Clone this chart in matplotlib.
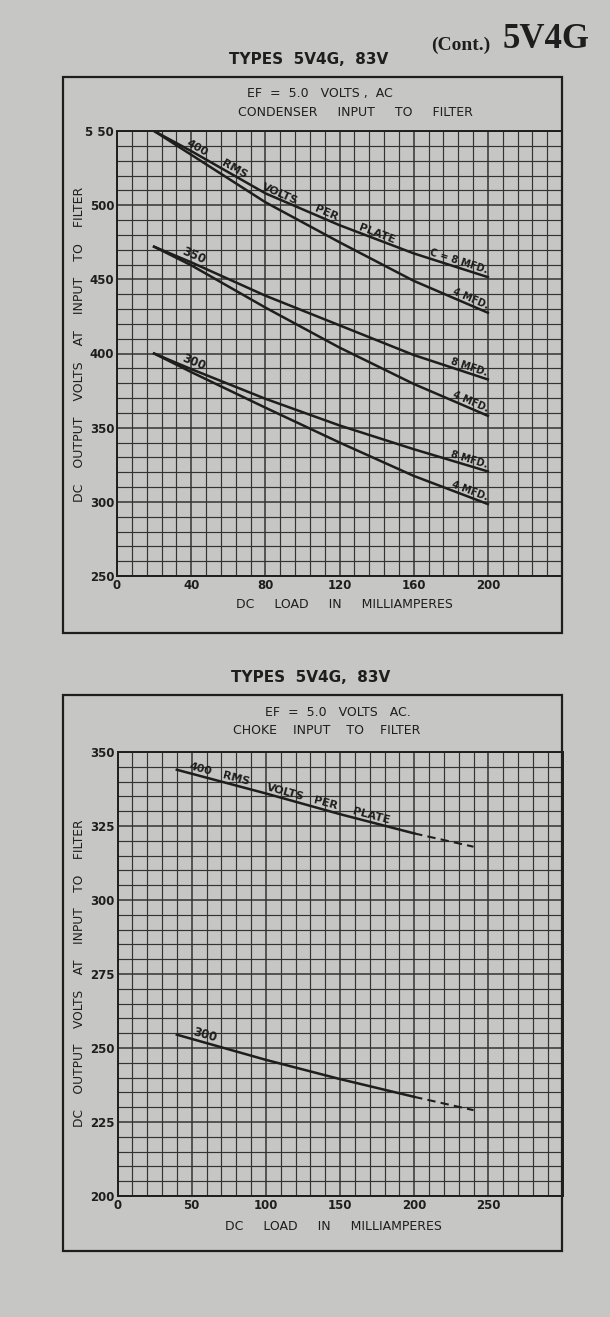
import numpy as np
import matplotlib
matplotlib.use("Agg")
import matplotlib.pyplot as plt
from matplotlib.patches import Rectangle


W, H = 610, 1317
PAPER = "#c6c6c4"
INK = "#1e1e1e"

# condenser input chart (top)
cond_load = [20, 40, 80, 120, 160, 200]
cond_400_8 = [550, 536.5, 508, 486.5, 467.5, 451.5]
cond_400_4 = [550, 534, 502, 475, 449, 427.5]
cond_350_8 = [472, 461.5, 439, 419, 399, 382.5]
cond_350_4 = [472, 459.5, 431, 404, 379.5, 358]
cond_300_8 = [400, 389.5, 369.5, 351.5, 335.5, 320.5]
cond_300_4 = [400, 387.5, 363.5, 340, 317.5, 298.5]
cond_xticks = [0, 40, 80, 120, 160, 200]
cond_yticks = [250, 300, 350, 400, 450, 500, 550]
cond_ylabels = ["250", "300", "350", "400", "450", "500", "5 50"]

# choke input chart (bottom)
choke_load = [40, 100, 150, 200]
choke_400 = [344, 336, 329, 322.5]
choke_300 = [254.5, 246, 239.5, 233.5]
choke_ext_load = [200, 240]
choke_400_ext = [322.5, 318]
choke_300_ext = [233.5, 229]
choke_xticks = [0, 50, 100, 150, 200, 250]
choke_yticks = [200, 225, 250, 275, 300, 325, 350]

# words of the curve caption and the load (mA) each one is centred on
caption_words = ["400", "RMS", "VOLTS", "PER", "PLATE"]
cond_word_at = [42, 62, 87, 112, 139.5]
choke_word_at = [55, 79, 112, 139, 170]

FONT = "DejaVu Sans"


def fx(px):
  return px / W


def fy(py):
  return 1 - py / H


def axes_at(fig, left, top, right, bottom):
  return fig.add_axes([fx(left), fy(bottom), fx(right) - fx(left), (bottom - top) / H])


def angle(ax, x, y):
  p = ax.transData.transform(np.column_stack([x, y]))
  d = p[-1] - p[0]
  return np.degrees(np.arctan2(d[1], d[0]))


def on_curve(ax, xs, ys, x, text, size=7, ha="center", half=8):
  y = np.interp(x, xs, ys)
  span = [max(xs[0], x - half), min(xs[-1], x + half)]
  rot = angle(ax, span, list(np.interp(span, xs, ys)))
  ax.text(x, y + 0.5, text, rotation=rot, rotation_mode="anchor",
          ha=ha, va="bottom", fontsize=size, fontweight="bold",
          family=FONT, color=INK, zorder=4)


def setup_grid(ax, xmax, xstep, ymin, ymax, ystep, xticks, yticks, ylabels=None):
  ax.set_facecolor(PAPER)
  ax.set_xlim(0, xmax)
  ax.set_ylim(ymin, ymax)
  for x in np.arange(0, xmax + 0.1, xstep):
    lw = 1.1 if x in xticks else 0.85
    ax.axvline(x, color="#333333", lw=lw, zorder=1)
  for y in np.arange(ymin, ymax + 0.1, ystep):
    lw = 1.1 if y in yticks else 0.85
    ax.axhline(y, color="#333333", lw=lw, zorder=1)
  ax.set_xticks(xticks)
  ax.set_yticks(yticks)
  if ylabels:
    ax.set_yticklabels(ylabels)
  ax.tick_params(length=0, pad=2, labelsize=8.5, colors=INK)
  for lab in ax.get_xticklabels() + ax.get_yticklabels():
    lab.set_fontweight("bold")
    lab.set_family(FONT)
  for s in ax.spines.values():
    s.set_color(INK)
    s.set_linewidth(1.4)


def label(fig, x, y, text, size=9, **kw):
  fig.text(fx(x), fy(y), text, ha="center", va="center", fontsize=size,
           family=FONT, color=INK, **kw)


def main():
  fig = plt.figure(figsize=(W / 100, H / 100), dpi=100)
  fig.patch.set_facecolor(PAPER)

  # frames
  for (l, t, r, b) in [(63, 77, 562, 633), (63, 695, 562, 1251)]:
    fig.patches.append(Rectangle((fx(l), fy(b)), fx(r) - fx(l), (b - t) / H,
                                 transform=fig.transFigure, fill=False,
                                 ec=INK, lw=1.6, zorder=0))

  fig.text(fx(461), fy(45), "(Cont.)", ha="center", va="center",
           family="Liberation Serif", fontweight="bold", fontsize=14, color=INK)
  fig.text(fx(546), fy(40), "5V4G", ha="center", va="center",
           family="Liberation Serif", fontweight="bold", fontsize=25, color=INK)

  # ---- top chart ----
  label(fig, 309, 60, "TYPES  5V4G,  83V", size=11, fontweight="bold")
  label(fig, 320, 93, "EF  =  5.0   VOLTS ,  AC")
  label(fig, 355, 112, "CONDENSER     INPUT     TO     FILTER")

  ax = axes_at(fig, 117, 131, 562, 576)
  setup_grid(ax, 240, 8, 250, 550, 10, cond_xticks, cond_yticks, cond_ylabels)
  for ys in [cond_400_8, cond_400_4, cond_350_8, cond_350_4, cond_300_8, cond_300_4]:
    ax.plot(cond_load, ys, color=INK, lw=1.8, zorder=3)

  for word, x in zip(caption_words, cond_word_at):
    on_curve(ax, cond_load, cond_400_8, x, word, size=8)
  on_curve(ax, cond_load, cond_400_8, 199, "C = 8 MFD.", ha="right", half=15)
  on_curve(ax, cond_load, cond_400_4, 199, "4 MFD.", ha="right", half=15)
  on_curve(ax, cond_load, cond_350_8, 199, "8 MFD.", ha="right", half=15)
  on_curve(ax, cond_load, cond_350_4, 199, "4 MFD.", ha="right", half=15)
  on_curve(ax, cond_load, cond_300_8, 199, "8 MFD.", ha="right", half=15)
  on_curve(ax, cond_load, cond_300_4, 199, "4 MFD.", ha="right", half=15)
  on_curve(ax, cond_load, cond_350_8, 40, "350", size=8.5)
  on_curve(ax, cond_load, cond_300_8, 40, "300", size=8.5)

  label(fig, 344, 605, "DC     LOAD     IN     MILLIAMPERES")
  label(fig, 80, 344, "DC    OUTPUT    VOLTS    AT    INPUT    TO    FILTER",
        rotation=90)

  # ---- bottom chart ----
  label(fig, 311, 678, "TYPES  5V4G,  83V", size=11, fontweight="bold")
  label(fig, 338, 712, "EF  =  5.0   VOLTS   AC.")
  label(fig, 327, 730, "CHOKE    INPUT    TO    FILTER")

  bx = axes_at(fig, 117.5, 752, 562.5, 1196)
  setup_grid(bx, 300, 10, 200, 350, 5, choke_xticks, choke_yticks)
  bx.plot(choke_load, choke_400, color=INK, lw=1.8, zorder=3)
  bx.plot(choke_load, choke_300, color=INK, lw=1.8, zorder=3)
  bx.plot(choke_ext_load, choke_400_ext, color=INK, lw=1.5, ls=(0, (4, 2.5)), zorder=3)
  bx.plot(choke_ext_load, choke_300_ext, color=INK, lw=1.5, ls=(0, (4, 2.5)), zorder=3)

  for word, x in zip(caption_words, choke_word_at):
    on_curve(bx, choke_load, choke_400, x, word, size=8, half=30)
  on_curve(bx, choke_load, choke_300, 58, "300", size=8.5, half=20)

  label(fig, 333, 1227, "DC     LOAD     IN     MILLIAMPERES")
  label(fig, 80, 973, "DC    OUTPUT    VOLTS    AT    INPUT    TO    FILTER",
        size=8.8, rotation=90)

  fig.savefig("out.png", dpi=100, facecolor=PAPER)


if __name__ == "__main__":
  main()
